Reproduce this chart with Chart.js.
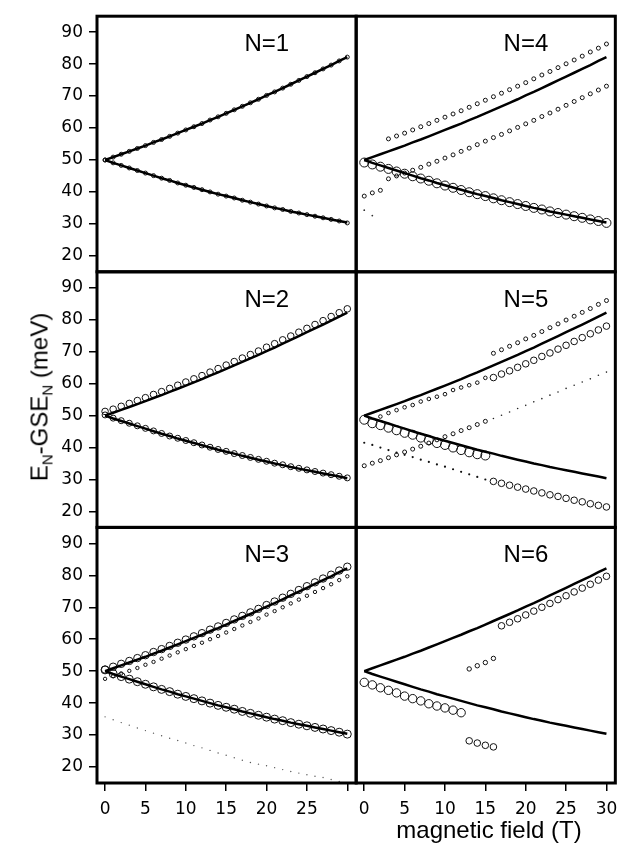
<!DOCTYPE html>
<html>
<head>
<meta charset="utf-8">
<title>E_N - GSE_N vs magnetic field, N=1..6</title>
<script src="https://cdn.jsdelivr.net/npm/chart.js@4.4.1/dist/chart.umd.min.js"></script>
<style>
  body { margin: 0; background: #fff; }
  #wrap { position: relative; width: 633px; height: 850px; }
  #chart-canvas { position: absolute; left: 0; top: 0; }
  .axis-title { position: absolute; font-family: 'Liberation Sans', Arial, sans-serif; font-size: 24px; line-height: 24px; white-space: nowrap; color: #000; }
  #y-title { left: 41px; top: 397px; transform: translate(-50%, -50%) rotate(-90deg); }
  #y-title sub { font-size: 15px; vertical-align: baseline; position: relative; top: 5px; }
  #x-title { left: 489px; top: 818px; transform: translateX(-50%); }
</style>
</head>
<body>
<div id="wrap">
  <canvas id="chart-canvas" width="633" height="850"></canvas>
  <div id="y-title" class="axis-title">E<sub>N</sub>-GSE<sub>N</sub> (meV)</div>
  <div id="x-title" class="axis-title">magnetic field (T)</div>
</div>
<script>
// magnetic field values (T)
const fields = [0, 1, 2, 3, 4, 5, 6, 7, 8, 9, 10, 11, 12, 13, 14, 15, 16, 17, 18, 19, 20, 21, 22, 23, 24, 25, 26, 27, 28, 29, 30];

const yTicks = [20, 30, 40, 50, 60, 70, 80, 90];
const xTickMarks = [0, 5, 10, 15, 20, 25, 30];
const xLabelsLeft = ['0', '5', '10', '15', '20', '25', ''];
const xLabelsRight = ['0', '5', '10', '15', '20', '25', '30'];
const panelNames = ['N=1', 'N=2', 'N=3', 'N=4', 'N=5', 'N=6'];

// solid curves (same in every panel)
const kohnUpper = [50.0, 50.9, 51.8, 52.7, 53.6, 54.5, 55.5, 56.4, 57.4, 58.4, 59.4, 60.4, 61.4, 62.5, 63.5, 64.6, 65.7, 66.8, 67.9, 69.0, 70.2, 71.3, 72.5, 73.7, 74.9, 76.1, 77.3, 78.5, 79.7, 81.0, 82.2];
const kohnLower = [50.0, 49.1, 48.3, 47.5, 46.7, 45.9, 45.1, 44.3, 43.6, 42.8, 42.1, 41.4, 40.7, 40.0, 39.3, 38.7, 38.1, 37.4, 36.8, 36.2, 35.6, 35.0, 34.5, 33.9, 33.4, 32.9, 32.4, 31.9, 31.4, 30.9, 30.4];

// N=1: circles sit on the curves
const n1Upper = [50.0, 50.9, 51.8, 52.7, 53.6, 54.5, 55.5, 56.4, 57.4, 58.4, 59.4, 60.4, 61.4, 62.5, 63.5, 64.6, 65.7, 66.8, 67.9, 69.0, 70.2, 71.3, 72.5, 73.7, 74.9, 76.1, 77.3, 78.5, 79.7, 81.0, 82.2];
const n1Lower = [50.0, 49.1, 48.3, 47.5, 46.7, 45.9, 45.1, 44.3, 43.6, 42.8, 42.1, 41.4, 40.7, 40.0, 39.3, 38.7, 38.1, 37.4, 36.8, 36.2, 35.6, 35.0, 34.5, 33.9, 33.4, 32.9, 32.4, 31.9, 31.4, 30.9, 30.3];

// N=2
const n2Upper = [51.3, 52.0, 52.9, 53.8, 54.7, 55.6, 56.6, 57.5, 58.5, 59.5, 60.5, 61.5, 62.5, 63.6, 64.7, 65.8, 66.9, 68.0, 69.1, 70.2, 71.4, 72.5, 73.7, 74.9, 76.1, 77.3, 78.5, 79.7, 81.0, 82.2, 83.4];
const n2Lower = [50.2, 49.2, 48.4, 47.6, 46.8, 46.0, 45.2, 44.4, 43.6, 42.9, 42.2, 41.5, 40.8, 40.1, 39.4, 38.8, 38.1, 37.5, 36.9, 36.3, 35.7, 35.1, 34.6, 34.0, 33.5, 33.0, 32.5, 32.0, 31.5, 31.0, 30.5];

// N=3
const n3Upper = [50.5, 51.4, 52.3, 53.2, 54.1, 55.0, 56.0, 56.9, 57.9, 58.9, 59.9, 60.9, 61.9, 63.0, 64.0, 65.1, 66.2, 67.3, 68.4, 69.5, 70.7, 71.8, 73.0, 74.2, 75.4, 76.6, 77.8, 79.0, 80.2, 81.5, 82.7];
const n3Lower = [50.4, 49.2, 48.3, 47.5, 46.7, 45.9, 45.1, 44.3, 43.6, 42.8, 42.1, 41.4, 40.7, 40.0, 39.3, 38.7, 38.1, 37.4, 36.8, 36.2, 35.6, 35.0, 34.5, 33.9, 33.4, 32.9, 32.4, 31.9, 31.4, 30.9, 30.3];
const n3Side = [47.6, 48.4, 49.3, 50.1, 51.0, 52.0, 52.9, 53.9, 54.9, 55.9, 56.9, 57.9, 58.9, 60.0, 61.0, 62.1, 63.2, 64.3, 65.4, 66.5, 67.7, 68.8, 70.0, 71.2, 72.4, 73.6, 74.8, 76.0, 77.2, 78.5, 79.7];
const n3Faint = [35.7, 34.8, 33.9, 33.1, 32.2, 31.4, 30.6, 29.8, 29.0, 28.3, 27.5, 26.7, 26.0, 25.2, 24.4, 23.7, 22.9, 22.1, 21.4, 20.9, 20.4, 19.8, 19.2, 18.6, 18.1, 17.6, 17.1, 16.7, 16.1, 15.5];

// N=4
const n4Top = [56.6, 57.5, 58.4, 59.4, 60.4, 61.4, 62.4, 63.4, 64.4, 65.4, 66.5, 67.6, 68.7, 69.8, 70.9, 72.0, 73.1, 74.2, 75.4, 76.6, 77.7, 78.9, 80.1, 81.3, 82.5, 83.8, 85.0, 86.3];
const n4Mid = [38.7, 39.7, 40.5, 44.1, 45.0, 45.9, 46.8, 47.7, 48.7, 49.6, 50.6, 51.6, 52.7, 53.7, 54.8, 55.9, 57.0, 58.0, 59.1, 60.2, 61.3, 62.4, 63.6, 64.7, 65.9, 67.1, 68.3, 69.5, 70.7, 71.9, 73.1];
const n4Low = [49.2, 48.6, 47.9, 47.2, 46.4, 45.7, 44.9, 44.2, 43.5, 42.7, 42.0, 41.3, 40.6, 39.9, 39.3, 38.7, 38.0, 37.4, 36.8, 36.2, 35.6, 35.0, 34.5, 33.9, 33.4, 32.9, 32.4, 31.9, 31.4, 30.9, 30.3];
const n4Faint = [34.3, 32.6];

// N=5 (branches change strength near 15.5 T)
const n5LowBig = [48.7, 47.6, 47.0, 46.2, 45.4, 44.6, 44.0, 43.1, 42.3, 41.4, 40.8, 40.0, 39.2, 38.5, 37.9, 37.5];
const n5Down = [41.5, 40.8, 40.0, 39.2, 38.4, 37.7, 37.0, 36.2, 35.5, 34.7, 34.0, 33.2, 32.4, 31.6, 30.8, 30.0];
const n5DownHi = [29.4, 28.8, 28.2, 27.6, 27.0, 26.4, 25.8, 25.2, 24.7, 24.1, 23.5, 23.0, 22.4, 21.9, 21.4];
const n5Rise = [34.3, 35.1, 35.9, 36.8, 37.7, 38.6, 39.5, 40.4, 41.4, 42.4, 43.4, 44.3, 45.3, 46.2, 47.2, 48.2];
const n5RiseHi = [49.1, 50.1, 51.1, 52.2, 53.2, 54.3, 55.3, 56.4, 57.4, 58.5, 59.5, 60.5, 61.5, 62.6, 63.6];
const n5Mid = [49.7, 50.8, 51.7, 52.6, 53.3, 54.4, 55.2, 55.9, 56.7, 58.0, 58.8, 59.5, 60.3, 61.8];
const n5MidHi = [61.9, 63.0, 64.0, 65.1, 66.2, 67.3, 68.5, 69.6, 70.8, 72.0, 73.2, 74.4, 75.6, 76.8, 78.0];
const n5Top = [69.5, 70.6, 71.7, 72.8, 74.0, 75.1, 76.3, 77.5, 78.7, 79.9, 81.1, 82.3, 83.5, 84.8, 86.0];

// N=6
const n6LowBig = [46.5, 45.7, 44.8, 44.0, 43.2, 42.2, 41.4, 40.7, 39.8, 39.1, 38.5, 37.8, 37.0];
const n6Gap = [50.7, 51.7, 52.7, 54.0];
const n6GapLow = [28.2, 27.5, 26.8, 26.3];
const n6High = [64.2, 65.3, 66.4, 67.6, 68.8, 70.0, 71.2, 72.4, 73.6, 74.8, 76.0, 77.2, 78.5, 79.7];

// which axes each panel uses (left column x1, right column x2; rows y1..y3 top to bottom)
const panelAxes = [['x1', 'y1'], ['x1', 'y2'], ['x1', 'y3'], ['x2', 'y1'], ['x2', 'y2'], ['x2', 'y3']];

function points(xs, ys) {
  return ys.map((y, i) => ({ x: xs[i], y: y }));
}

function curve(panel, ys) {
  return {
    data: points(fields, ys), showLine: true, borderColor: '#000', borderWidth: 2.5,
    pointRadius: 0, xAxisID: panelAxes[panel][0], yAxisID: panelAxes[panel][1]
  };
}

function rings(panel, xs, ys, r) {
  return {
    data: points(xs, ys), showLine: false, pointRadius: r, borderColor: '#111', borderWidth: 1,
    backgroundColor: 'rgba(0,0,0,0)', xAxisID: panelAxes[panel][0], yAxisID: panelAxes[panel][1]
  };
}

function specks(panel, xs, ys, r, color) {
  return {
    data: points(xs, ys), showLine: false, pointRadius: r, borderWidth: 0,
    backgroundColor: color, xAxisID: panelAxes[panel][0], yAxisID: panelAxes[panel][1]
  };
}

const lowB = fields.slice(0, 16);
const highB = fields.slice(16);

const datasets = [];
for (let p = 0; p < 6; p++) {
  datasets.push(curve(p, kohnUpper), curve(p, kohnLower));
}
datasets.push(
  rings(0, fields, n1Upper, 2), rings(0, fields, n1Lower, 2),
  rings(1, fields, n2Upper, 3.3), rings(1, fields, n2Lower, 3),
  rings(2, fields, n3Upper, 3.7), rings(2, fields, n3Lower, 4), rings(2, fields, n3Side, 1.7),
  specks(2, fields.slice(0, 30), n3Faint, 0.7, '#555'),
  rings(3, fields.slice(3), n4Top, 2), rings(3, fields, n4Mid, 2), rings(3, fields, n4Low, 4.5),
  specks(3, fields.slice(0, 2), n4Faint, 0.9, '#333'),
  rings(4, lowB, n5LowBig, 4.5), specks(4, lowB, n5Down, 1.1, '#111'), rings(4, highB, n5DownHi, 3.3),
  rings(4, lowB, n5Rise, 2), specks(4, highB, n5RiseHi, 0.8, '#222'),
  rings(4, fields.slice(2, 16), n5Mid, 1.8), rings(4, highB, n5MidHi, 3.3), rings(4, highB, n5Top, 2),
  rings(5, fields.slice(0, 13), n6LowBig, 4.2), rings(5, fields.slice(13, 17), n6Gap, 2.2),
  rings(5, fields.slice(13, 17), n6GapLow, 3.3), rings(5, fields.slice(17), n6High, 3.3)
);

const tickFont = { family: "'DejaVu Sans', sans-serif", size: 17 };
const tickGrid = { drawOnChartArea: false, drawTicks: true, tickLength: 8, color: '#000', lineWidth: 1.5 };

function yScale() {
  return {
    type: 'linear', position: 'left', stack: 'rows', min: 15, max: 95,
    afterBuildTicks: s => { s.ticks = yTicks.map(v => ({ value: v })); },
    afterFit: s => { s.width = 97; },
    grid: tickGrid,
    border: { display: false },
    ticks: { color: '#000', font: tickFont, padding: 6, autoSkip: false }
  };
}

function xScale(labels) {
  return {
    type: 'linear', position: 'bottom', stack: 'cols', min: -1, max: 31.1,
    afterBuildTicks: s => { s.ticks = xTickMarks.map(v => ({ value: v })); },
    afterFit: s => { s.height = 67; },
    grid: tickGrid,
    border: { display: false },
    ticks: { color: '#000', font: tickFont, padding: 8, autoSkip: false, maxRotation: 0, callback: (v, i) => labels[i] }
  };
}

// frames round each panel plus the N=.. labels
const panelFrames = {
  id: 'panelFrames',
  afterDraw(chart) {
    const ctx = chart.ctx;
    ctx.save();
    ctx.strokeStyle = '#000';
    ctx.lineWidth = 3;
    ctx.fillStyle = '#000';
    ctx.font = "24px 'Liberation Sans', Arial, sans-serif";
    ctx.textAlign = 'center';
    panelAxes.forEach((ids, i) => {
      const xs = chart.scales[ids[0]];
      const ys = chart.scales[ids[1]];
      ctx.strokeRect(xs.left, ys.top, xs.right - xs.left, ys.bottom - ys.top);
      ctx.fillText(panelNames[i], xs.left + 0.655 * (xs.right - xs.left), ys.top + 35);
    });
    ctx.restore();
  }
};

new Chart(document.getElementById('chart-canvas'), {
  type: 'scatter',
  data: { datasets: datasets },
  options: {
    responsive: false,
    animation: false,
    devicePixelRatio: 1,
    layout: { padding: { left: 0, right: 17, top: 5, bottom: 0 } },
    plugins: { legend: { display: false }, tooltip: { enabled: false } },
    scales: {
      // left-hand stacked scales are laid out in reverse order, so the bottom row comes first
      y3: yScale(),
      y2: yScale(),
      y1: yScale(),
      x1: xScale(xLabelsLeft),
      x2: xScale(xLabelsRight)
    }
  },
  plugins: [panelFrames]
});
</script>
</body>
</html>
